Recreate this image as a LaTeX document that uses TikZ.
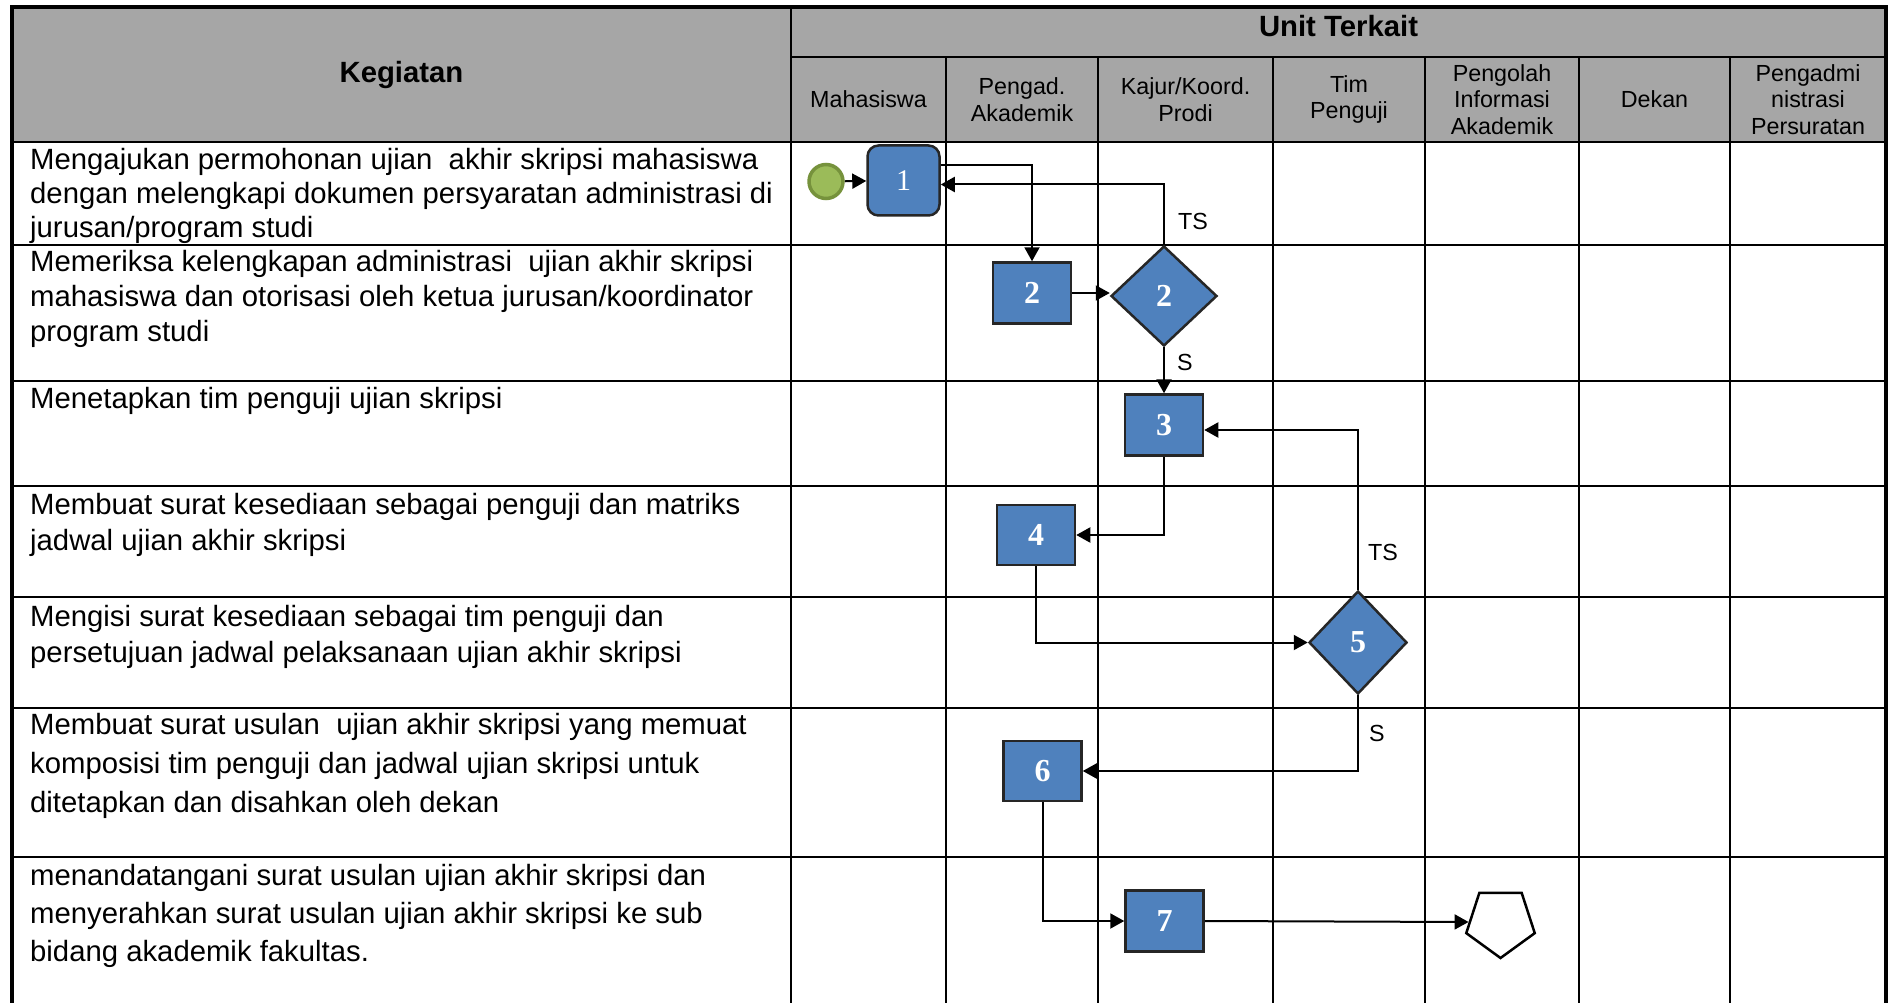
\documentclass[tikz,border=0pt]{standalone}
\usepackage{fontspec}
\setmainfont{Liberation Sans}
\newfontfamily\numfont{Liberation Serif}
\usetikzlibrary{arrows.meta}
\usetikzlibrary{shapes.geometric}
\definecolor{hdrgray}{HTML}{A6A6A6}
\definecolor{boxblue}{HTML}{4F81BD}
\definecolor{boxline}{HTML}{262626}
\definecolor{startfill}{HTML}{9BBB59}
\definecolor{startline}{HTML}{76923C}
\newcommand{\kegiatan}[4]% name, top of first line, line skip, text
{\node[kegtext, font=\fontsize{29.3}{#3}\selectfont] (#1) at (30,#2) {#4};
}

\begin{document}
\begin{tikzpicture}[x=1pt, y=-1pt,
	tabline/.style={line width=2.5pt},
	outline/.style={line width=3.5pt, line cap=rect},
	flow/.style={line width=2pt, -{Triangle[length=14pt,width=15pt]}},
	proc/.style={rectangle, draw=boxline, line width=2.5pt, fill=boxblue,
		minimum width=78pt, minimum height=61pt, inner sep=0pt, text=white,
		font=\fontsize{32}{32}\numfont\bfseries},
	dec/.style={diamond, draw=boxline, line width=2.5pt, fill=boxblue,
		inner sep=0pt, text=white, font=\fontsize{32}{32}\numfont\bfseries},
	colhead/.style={align=center, inner sep=0pt, font=\fontsize{23.3}{26.5}\selectfont},
	lbl/.style={inner sep=0pt, font=\fontsize{23.3}{26}\selectfont},
	kegtext/.style={anchor=north west, inner sep=0pt, align=left}]
	\useasboundingbox (0,0) rectangle (1892,1003);
	% table
	\fill[hdrgray] (12,7) rectangle (1886,142);
	\foreach \y in {142,245,381,486,597,708,857}
		\draw[tabline] (12,\y) -- (1886,\y);
	\foreach \x in {946,1098,1273,1425,1579,1730}
		\draw[tabline] (\x,57) -- (\x,1003);
	\draw[tabline] (791,57) -- (1886,57);
	\draw[tabline] (791,7) -- (791,1003);
	\draw[outline] (12,1003) -- (12,7) -- (1886,7) -- (1886,1003);
	% header
	\node[font=\fontsize{29.3}{34}\selectfont\bfseries] (keg) at (401.5,74.5) {Kegiatan};
	\node[font=\fontsize{29.3}{34}\selectfont\bfseries] (unit) at (1338.5,26) {Unit Terkait};
	\node[colhead] (h1) at (868.5,99.5) {Mahasiswa};
	\node[colhead] (h2) at (1022,99.5) {Pengad.\\Akademik};
	\node[colhead] (h3) at (1185.5,99.5) {Kajur/Koord.\\Prodi};
	\node[colhead] (h4) at (1349,99.5) {Tim\\Penguji};
	\node[colhead] (h5) at (1502,99.5) {Pengolah\\Informasi\\Akademik};
	\node[colhead] (h6) at (1654.5,99.5) {Dekan};
	\node[colhead] (h7) at (1808,99.5) {Pengadmi\\nistrasi\\Persuratan};
	% kegiatan
	\kegiatan{k1}{148}{34}{Mengajukan permohonan ujian\ \ akhir skripsi mahasiswa\\dengan melengkapi dokumen persyaratan administrasi di\\jurusan/program studi}
	\kegiatan{k2}{250}{35}{Memeriksa kelengkapan administrasi\ \ ujian akhir skripsi\\mahasiswa dan otorisasi oleh ketua jurusan/koordinator\\program studi}
	\kegiatan{k3}{387}{35}{Menetapkan tim penguji ujian skripsi}
	\kegiatan{k4}{493}{36}{Membuat surat kesediaan sebagai penguji dan matriks\\jadwal ujian akhir skripsi}
	\kegiatan{k5}{605}{36}{Mengisi surat kesediaan sebagai tim penguji dan\\persetujuan jadwal pelaksanaan ujian akhir skripsi}
	\kegiatan{k6}{713}{39}{Membuat surat usulan\ \ ujian akhir skripsi yang memuat\\komposisi tim penguji dan jadwal ujian skripsi untuk\\ditetapkan dan disahkan oleh dekan}
	\kegiatan{k7}{864}{38}{menandatangani surat usulan ujian akhir skripsi dan\\menyerahkan surat usulan ujian akhir skripsi ke sub\\bidang akademik fakultas.}
	% flow
	\node[circle, draw=startline, fill=startfill, line width=3.5pt, minimum size=34pt, inner sep=0pt] (st) at (826,181.5) {};
	\node[proc, rounded corners=11pt, minimum width=72pt, minimum height=70pt,
		font=\fontsize{30}{30}\numfont] (b1) at (903.5,180.5) {1};
	\node[proc] (b2) at (1032,293) {2};%2
	\node[dec, minimum width=106pt, minimum height=100pt] (d2) at (1164,296) {2};
	\node[proc] (b3) at (1164,425) {3};%3
	\node[proc, minimum height=60pt] (b4) at (1036,535) {4};%4
	\node[dec, minimum width=98pt, minimum height=103pt] (d5) at (1358,642.5) {5};%5
	\node[proc, minimum height=60pt] (b6) at (1042.5,771) {6};%6
	\node[proc] (b7) at (1164.5,921) {7};%7
	\node[regular polygon, regular polygon sides=5, shape border rotate=180, draw, line width=2.5pt,
		minimum size=72pt, inner sep=0pt] (end) at (1500.5,922) {};
	\draw[flow] (st) -- (b1);
	\draw[flow] ([yshift=15pt]b1.east) -| (b2.north);
	\draw[flow] (d2.north) |- ([yshift=-4pt]b1.east);
	\draw[flow] (b2.east) -- (b2.east -| d2.west);
	\draw[flow] (d2.south) -- (b3.north);
	\draw[flow] (b3.south) |- (b4.east);
	\draw[flow] (d5.north) |- ([yshift=-5pt]b3.east);
	\draw[flow] (b4.south) |- (d5.west);
	\draw[flow] (d5.south) |- (b6.east);
	\draw[flow] (b6.south) |- (b7.west);
	\draw[flow] (b7.east) -- (end.180);
	\node[lbl] (ts1) at (1193,221) {TS};
	\node[lbl] (s1) at (1185,362) {S};
	\node[lbl] (ts2) at (1383,552) {TS};
	\node[lbl] (s2) at (1377,733) {S};
\end{tikzpicture}
\end{document}
